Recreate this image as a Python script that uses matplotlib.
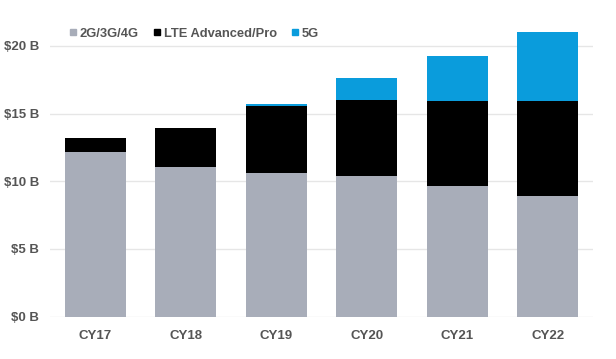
import matplotlib
matplotlib.use("Agg")
import matplotlib.pyplot as plt
import numpy as np
from matplotlib.lines import Line2D

categories = ["CY17", "CY18", "CY19", "CY20", "CY21", "CY22"]
legacy = [12.14, 11.08, 10.64, 10.39, 9.65, 8.91]
lte_total = [13.18, 13.92, 15.59, 16.01, 15.93, 15.93]
fiveg_total = [13.18, 13.92, 15.69, 17.61, 19.26, 21.06]
series_names = ["2G/3G/4G", "LTE Advanced/Pro", "5G"]
yticks = [0, 5, 10, 15, 20]
ytick_labels = ["$0 B", "$5 B", "$10 B", "$15 B", "$20 B"]

lte = [t - l for t, l in zip(lte_total, legacy)]
fiveg = [f - t for f, t in zip(fiveg_total, lte_total)]

colors = ["#A8ADB9", "#000000", "#0A9CDC"]

plt.rcParams['font.family'] = ['Liberation Sans', 'DejaVu Sans']
fig = plt.figure(figsize=(6.16, 3.59), dpi=100)
ax = fig.add_axes([50/616, 1 - 316.6/359, 543/616, (316.6 - 25)/359])

x = np.arange(len(categories))
w = 0.67
ax.bar(x, legacy, w, color=colors[0], zorder=3)
ax.bar(x, lte, w, bottom=legacy, color=colors[1], zorder=3)
ax.bar(x, fiveg, w, bottom=lte_total, color=colors[2], zorder=3)

ax.set_xlim(-0.5, len(categories) - 0.5)
ax.set_ylim(0, 21.55)
ax.set_yticks(yticks)
ax.set_yticklabels(ytick_labels)
ax.set_xticks(x)
ax.set_xticklabels(categories)
ax.grid(axis='y', color='#E6E6E6', linewidth=1, zorder=0)
for s in ax.spines.values():
    s.set_visible(False)
ax.tick_params(axis='both', length=0, labelsize=9.5, labelcolor='#555555')
ax.tick_params(axis='y', pad=8)
ax.tick_params(axis='x', pad=10)
for lbl in ax.get_xticklabels() + ax.get_yticklabels():
    lbl.set_fontweight('bold')

handles = [Line2D([0], [0], marker='s', linestyle='none', markersize=4.5,
                  markerfacecolor=c, markeredgecolor=c) for c in colors]
leg = fig.legend(handles, series_names, loc='center left',
                 bbox_to_anchor=(58/616, 1 - 33.5/359), ncol=3, frameon=False,
                 handlelength=0.5, handletextpad=0.25, columnspacing=1.2,
                 prop={'size': 9.3, 'weight': 'bold'})
for t in leg.get_texts():
    t.set_color('#555555')

fig.savefig("out.png", dpi=100, facecolor='white')
